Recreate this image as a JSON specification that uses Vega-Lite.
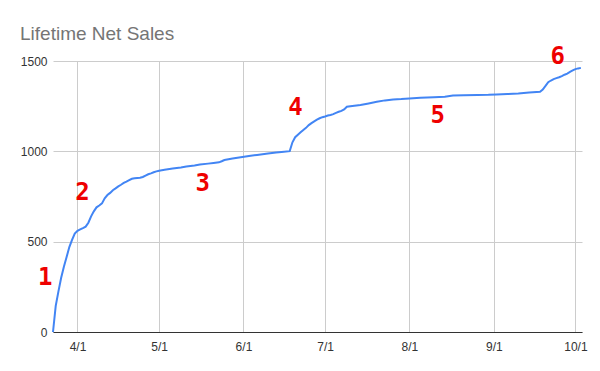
{
  "$schema": "https://vega.github.io/schema/vega-lite/v6.json",
  "width": 529,
  "height": 271,
  "autosize": "none",
  "padding": {"left": 53, "top": 61, "right": 18, "bottom": 39},
  "background": "white",
  "title": {
    "text": "Lifetime Net Sales",
    "anchor": "start",
    "frame": "group",
    "font": "Liberation Sans",
    "fontSize": 19,
    "fontWeight": "normal",
    "color": "#757575",
    "baseline": "alphabetic",
    "offset": 16,
    "dx": -33,
    "dy": 30
  },
  "config": {
    "view": {"stroke": null},
    "axis": {
      "labelFont": "Liberation Sans",
      "labelFontSize": 12,
      "labelColor": "#333333",
      "gridColor": "#cccccc",
      "gridWidth": 1,
      "ticks": false,
      "title": null
    }
  },
  "datasets": {
    "sales": [
      {"date": "2021-03-23T00:00", "sales": 0},
      {"date": "2021-03-24T00:00", "sales": 145},
      {"date": "2021-03-25T00:00", "sales": 225},
      {"date": "2021-03-26T00:00", "sales": 300},
      {"date": "2021-03-27T00:00", "sales": 361},
      {"date": "2021-03-28T00:00", "sales": 415},
      {"date": "2021-03-29T00:00", "sales": 470},
      {"date": "2021-03-30T00:00", "sales": 510},
      {"date": "2021-03-31T00:00", "sales": 545},
      {"date": "2021-04-01T00:00", "sales": 560},
      {"date": "2021-04-02T00:00", "sales": 568},
      {"date": "2021-04-03T00:00", "sales": 575},
      {"date": "2021-04-04T00:00", "sales": 583},
      {"date": "2021-04-05T00:00", "sales": 605},
      {"date": "2021-04-06T00:00", "sales": 640},
      {"date": "2021-04-07T00:00", "sales": 668},
      {"date": "2021-04-08T00:00", "sales": 690},
      {"date": "2021-04-09T00:00", "sales": 700},
      {"date": "2021-04-10T00:00", "sales": 712},
      {"date": "2021-04-11T00:00", "sales": 740},
      {"date": "2021-04-12T00:00", "sales": 758},
      {"date": "2021-04-13T00:00", "sales": 770},
      {"date": "2021-04-14T00:00", "sales": 785},
      {"date": "2021-04-15T00:00", "sales": 795},
      {"date": "2021-04-16T00:00", "sales": 806},
      {"date": "2021-04-17T00:00", "sales": 815},
      {"date": "2021-04-18T00:00", "sales": 825},
      {"date": "2021-04-19T00:00", "sales": 832},
      {"date": "2021-04-20T00:00", "sales": 840},
      {"date": "2021-04-21T00:00", "sales": 848},
      {"date": "2021-04-22T00:00", "sales": 851},
      {"date": "2021-04-23T00:00", "sales": 853},
      {"date": "2021-04-24T00:00", "sales": 854},
      {"date": "2021-04-25T00:00", "sales": 858},
      {"date": "2021-04-26T00:00", "sales": 866},
      {"date": "2021-04-27T00:00", "sales": 873},
      {"date": "2021-04-28T00:00", "sales": 878},
      {"date": "2021-04-29T00:00", "sales": 884},
      {"date": "2021-04-30T00:00", "sales": 889},
      {"date": "2021-05-01T00:00", "sales": 893},
      {"date": "2021-05-03T00:00", "sales": 898},
      {"date": "2021-05-06T00:00", "sales": 905},
      {"date": "2021-05-09T00:00", "sales": 911},
      {"date": "2021-05-11T00:00", "sales": 916},
      {"date": "2021-05-14T00:00", "sales": 922},
      {"date": "2021-05-16T00:00", "sales": 927},
      {"date": "2021-05-19T00:00", "sales": 932},
      {"date": "2021-05-21T00:00", "sales": 936},
      {"date": "2021-05-23T00:00", "sales": 939},
      {"date": "2021-05-24T00:00", "sales": 945},
      {"date": "2021-05-25T00:00", "sales": 952},
      {"date": "2021-05-28T00:00", "sales": 960},
      {"date": "2021-05-31T00:00", "sales": 967},
      {"date": "2021-06-03T00:00", "sales": 974},
      {"date": "2021-06-06T00:00", "sales": 980},
      {"date": "2021-06-10T00:00", "sales": 988},
      {"date": "2021-06-13T00:00", "sales": 993},
      {"date": "2021-06-15T00:00", "sales": 996},
      {"date": "2021-06-18T00:00", "sales": 1001},
      {"date": "2021-06-19T00:00", "sales": 1050},
      {"date": "2021-06-20T00:00", "sales": 1078},
      {"date": "2021-06-21T00:00", "sales": 1092},
      {"date": "2021-06-22T00:00", "sales": 1105},
      {"date": "2021-06-23T00:00", "sales": 1118},
      {"date": "2021-06-24T00:00", "sales": 1130},
      {"date": "2021-06-25T00:00", "sales": 1145},
      {"date": "2021-06-26T00:00", "sales": 1156},
      {"date": "2021-06-27T00:00", "sales": 1166},
      {"date": "2021-06-28T00:00", "sales": 1175},
      {"date": "2021-06-29T00:00", "sales": 1183},
      {"date": "2021-06-30T00:00", "sales": 1189},
      {"date": "2021-07-01T00:00", "sales": 1193},
      {"date": "2021-07-02T00:00", "sales": 1198},
      {"date": "2021-07-03T00:00", "sales": 1201},
      {"date": "2021-07-04T00:00", "sales": 1206},
      {"date": "2021-07-05T00:00", "sales": 1213},
      {"date": "2021-07-06T00:00", "sales": 1219},
      {"date": "2021-07-07T00:00", "sales": 1224},
      {"date": "2021-07-08T00:00", "sales": 1232},
      {"date": "2021-07-09T00:00", "sales": 1247},
      {"date": "2021-07-11T00:00", "sales": 1251},
      {"date": "2021-07-14T00:00", "sales": 1256},
      {"date": "2021-07-17T00:00", "sales": 1265},
      {"date": "2021-07-20T00:00", "sales": 1274},
      {"date": "2021-07-23T00:00", "sales": 1282},
      {"date": "2021-07-26T00:00", "sales": 1287},
      {"date": "2021-07-29T00:00", "sales": 1289},
      {"date": "2021-08-01T00:00", "sales": 1292},
      {"date": "2021-08-05T00:00", "sales": 1296},
      {"date": "2021-08-10T00:00", "sales": 1299},
      {"date": "2021-08-14T00:00", "sales": 1302},
      {"date": "2021-08-17T00:00", "sales": 1309},
      {"date": "2021-08-21T00:00", "sales": 1311},
      {"date": "2021-08-26T00:00", "sales": 1312},
      {"date": "2021-08-30T00:00", "sales": 1313},
      {"date": "2021-09-02T00:00", "sales": 1315},
      {"date": "2021-09-06T00:00", "sales": 1317},
      {"date": "2021-09-10T00:00", "sales": 1320},
      {"date": "2021-09-14T00:00", "sales": 1325},
      {"date": "2021-09-18T00:00", "sales": 1330},
      {"date": "2021-09-19T00:00", "sales": 1342},
      {"date": "2021-09-20T00:00", "sales": 1362},
      {"date": "2021-09-21T00:00", "sales": 1383},
      {"date": "2021-09-22T00:00", "sales": 1392},
      {"date": "2021-09-23T00:00", "sales": 1400},
      {"date": "2021-09-24T00:00", "sales": 1405},
      {"date": "2021-09-25T00:00", "sales": 1410},
      {"date": "2021-09-26T00:00", "sales": 1416},
      {"date": "2021-09-27T00:00", "sales": 1424},
      {"date": "2021-09-28T00:00", "sales": 1430},
      {"date": "2021-09-29T00:00", "sales": 1440},
      {"date": "2021-09-30T00:00", "sales": 1448},
      {"date": "2021-10-01T00:00", "sales": 1455},
      {"date": "2021-10-02T00:00", "sales": 1459},
      {"date": "2021-10-03T00:00", "sales": 1462}
    ],
    "notes": [
      {"date": "2021-03-20T04:00", "sales": 299, "label": "1"},
      {"date": "2021-04-02T20:00", "sales": 769, "label": "2"},
      {"date": "2021-05-17T00:00", "sales": 819, "label": "3"},
      {"date": "2021-06-20T02:00", "sales": 1240, "label": "4"},
      {"date": "2021-08-11T10:00", "sales": 1195, "label": "5"},
      {"date": "2021-09-24T12:00", "sales": 1522, "label": "6"}
    ]
  },
  "layer": [
    {
      "data": {"name": "sales"},
      "mark": {"type": "line", "color": "#4285f4", "strokeWidth": 2, "clip": false},
      "encoding": {
        "x": {
          "field": "date",
          "type": "temporal",
          "scale": {
            "domain": [
              {"year": 2021, "month": 3, "date": 23},
              {"year": 2021, "month": 10, "date": 3, "hours": 10}
            ],
            "nice": false
          },
          "axis": {
            "format": "%-m/%-d",
            "tickCount": {"interval": "month", "step": 1},
            "domainColor": "#333333",
            "domainWidth": 1,
            "labelPadding": 9,
            "labelAlign": "center",
            "labelFlush": false,
            "labelOverlap": false
          }
        },
        "y": {
          "field": "sales",
          "type": "quantitative",
          "scale": {"domain": [0, 1500], "nice": false},
          "axis": {
            "values": [0, 500, 1000, 1500],
            "format": "d",
            "domain": false,
            "labelPadding": 6
          }
        }
      }
    },
    {
      "data": {"name": "notes"},
      "mark": {
        "type": "text",
        "font": "DejaVu Sans Mono",
        "fontWeight": "bold",
        "fontSize": 24,
        "color": "#ee0000",
        "align": "center",
        "baseline": "middle",
        "clip": false
      },
      "encoding": {
        "x": {"field": "date", "type": "temporal"},
        "y": {"field": "sales", "type": "quantitative"},
        "text": {"field": "label"}
      }
    }
  ]
}
